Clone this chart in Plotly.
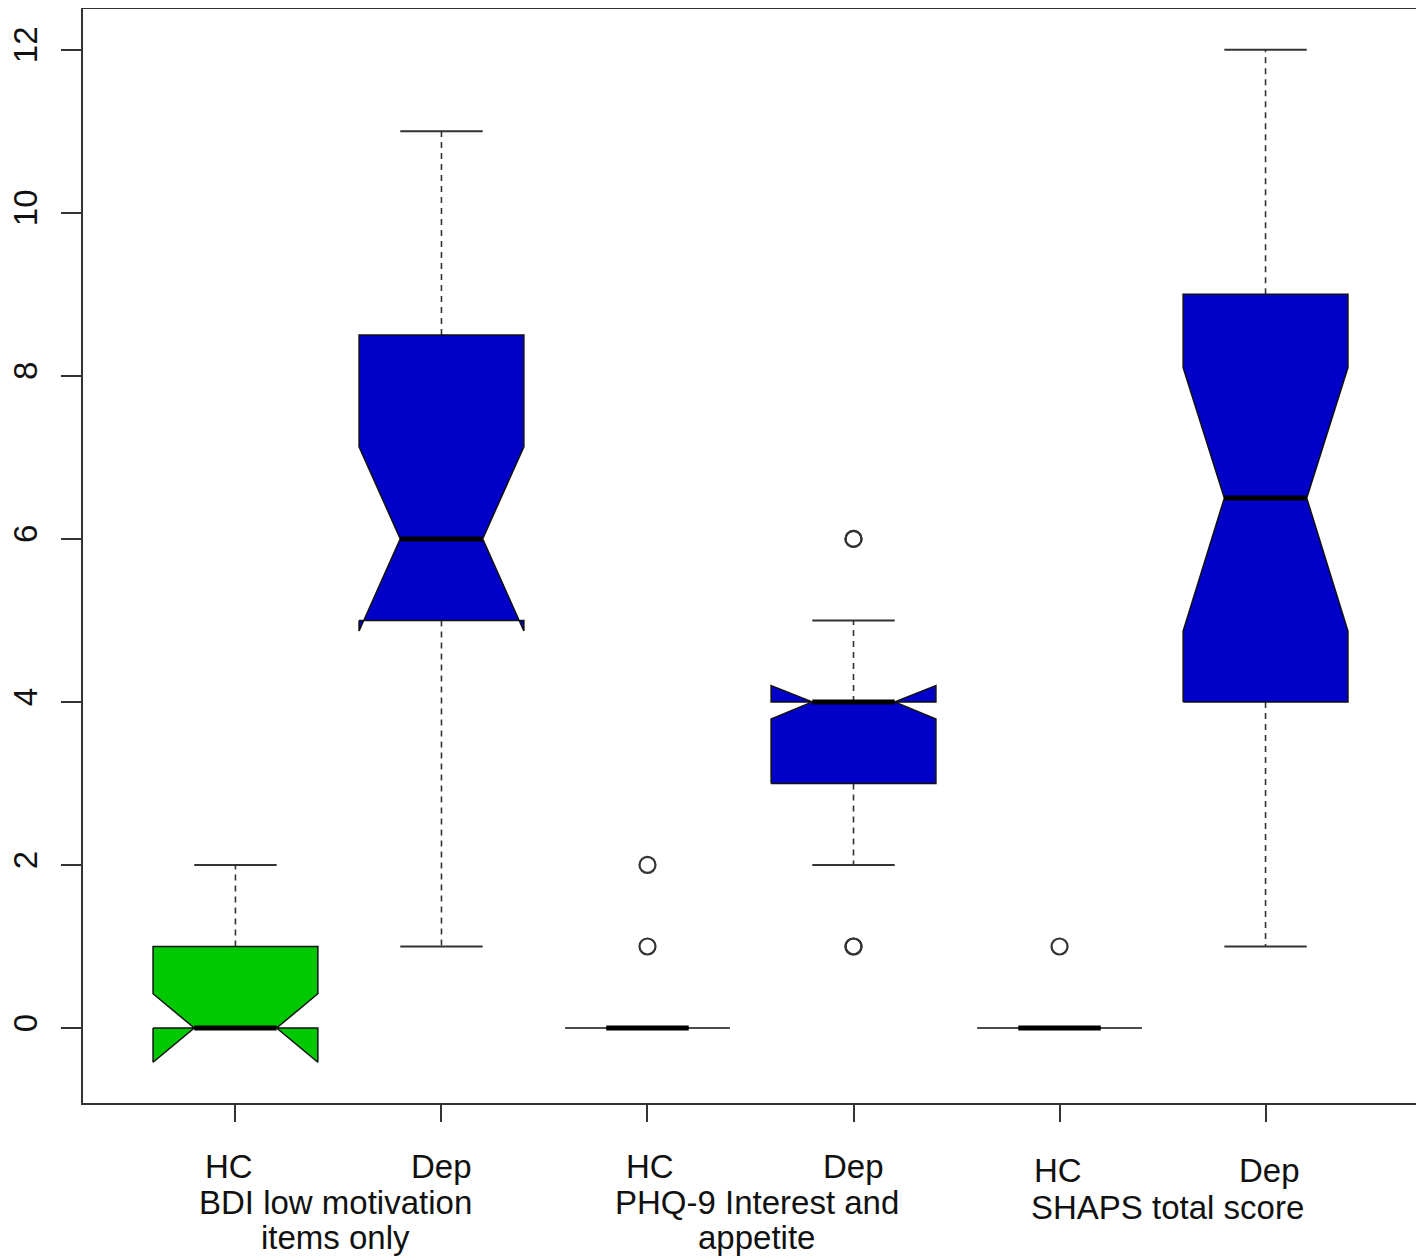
import plotly.graph_objects as go

# ---- data ----
positions = [1, 2, 3, 4, 5, 6]
group_labels = ["HC", "Dep", "HC", "Dep", "HC", "Dep"]
scale_centers = [1.5, 3.5, 5.5]
scale_lines = [["BDI low motivation", "items only"],
               ["PHQ-9 Interest and", "appetite"],
               ["SHAPS total score"]]
q1 = [0, 5, 0, 3, 0, 4]
median = [0, 6, 0, 4, 0, 6.5]
q3 = [1, 8.5, 0, 4, 0, 9]
notch_lo = [-0.42, 4.87, 0, 3.79, 0, 4.87]
notch_hi = [0.42, 7.13, 0, 4.20, 0, 8.10]
whisker_lo = [0, 1, 0, 2, 0, 1]
whisker_hi = [2, 11, 0, 5, 0, 12]
outliers = [[], [], [1, 2], [6, 6, 1, 1], [1], []]
y_ticks = [0, 2, 4, 6, 8, 10, 12]

# ---- styles ----
box_colors = ["#00c800", "#0000c8", "#00c800", "#0000c8", "#00c800", "#0000c8"]
half_w = 0.4          # boxwex / 2
notch_frac = 0.5
staple_frac = 0.5
FONT = "Liberation Sans, Arial, sans-serif"
FS = 33
PAGE_OFFSET = 8       # default body margin of the html page
group_dx = [-6, 0, 3, 0, -2, 4]
group_dy = [63, 63, 63, 63, 67, 67]
scale_dx = [-3, 6, 5]
scale_dy = [[99, 134], [99, 134], [104]]

fig = go.Figure()

for i, x in enumerate(positions):
    # whiskers (dashed)
    wx, wy = [], []
    if whisker_hi[i] > q3[i]:
        wx += [x, x, None]
        wy += [q3[i], whisker_hi[i], None]
    if whisker_lo[i] < q1[i]:
        wx += [x, x, None]
        wy += [q1[i], whisker_lo[i], None]
    if wx:
        fig.add_trace(go.Scatter(x=wx, y=wy, mode="lines",
                                 line=dict(color="#333333", width=1.6, dash="6px,5px"),
                                 hoverinfo="skip", showlegend=False))
    # staples
    sw = half_w * staple_frac
    sx = [x - sw, x + sw, None, x - sw, x + sw]
    sy = [whisker_hi[i], whisker_hi[i], None, whisker_lo[i], whisker_lo[i]]
    fig.add_trace(go.Scatter(x=sx, y=sy, mode="lines",
                             line=dict(color="#333333", width=2),
                             hoverinfo="skip", showlegend=False))
    # notched box polygon (R bxp layout)
    xo = [-1, 1, 1, notch_frac, 1, 1, -1, -1, -notch_frac, -1, -1]
    yv = [q1[i], q1[i], notch_lo[i], median[i], notch_hi[i], q3[i], q3[i],
          notch_hi[i], median[i], notch_lo[i], q1[i]]
    fig.add_trace(go.Scatter(x=[x + half_w * o for o in xo], y=yv, mode="lines",
                             fill="toself", fillcolor=box_colors[i],
                             line=dict(color="#111111", width=1.5),
                             hoverinfo="skip", showlegend=False))
    # median
    mw = half_w * notch_frac
    fig.add_trace(go.Scatter(x=[x - mw, x + mw], y=[median[i], median[i]], mode="lines",
                             line=dict(color="#000000", width=5),
                             hoverinfo="skip", showlegend=False))
    # outliers
    if outliers[i]:
        fig.add_trace(go.Scatter(x=[x] * len(outliers[i]), y=outliers[i], mode="markers",
                                 marker=dict(symbol="circle-open", size=16,
                                             color="#333333", line=dict(width=2.2)),
                                 hoverinfo="skip", showlegend=False))

# x labels (group + scale) as text annotations (pixel offsets below the plot frame)
for i, x in enumerate(positions):
    fig.add_annotation(x=x, y=0, xref="x", yref="paper", text=group_labels[i],
                       showarrow=False, yanchor="middle",
                       xshift=group_dx[i], yshift=-group_dy[i],
                       font=dict(family=FONT, size=FS, color="#111111"))
for k, xc in enumerate(scale_centers):
    for j, txt in enumerate(scale_lines[k]):
        fig.add_annotation(x=xc, y=0, xref="x", yref="paper", text=txt,
                           showarrow=False, yanchor="middle",
                           xshift=scale_dx[k], yshift=-scale_dy[k][j],
                           font=dict(family=FONT, size=FS, color="#111111"))

fig.update_layout(
    width=1424 - PAGE_OFFSET, height=1256 - PAGE_OFFSET, autosize=False,
    margin=dict(l=83 - PAGE_OFFSET, r=6, t=9 - PAGE_OFFSET, b=153),
    plot_bgcolor="white", paper_bgcolor="white",
    showlegend=False,
    font=dict(family=FONT, size=FS, color="#111111"),
)
fig.update_xaxes(range=[0.26, 6.74], tickvals=positions, ticks="outside", ticklen=17,
                 tickwidth=2, tickcolor="#333333", showticklabels=False,
                 showgrid=False, zeroline=False, showline=True, mirror=True,
                 linecolor="#333333", linewidth=2, automargin=False)
fig.update_yaxes(range=[-0.92, 12.5], tickvals=y_ticks, ticks="outside", ticklen=20,
                 tickwidth=2, tickcolor="#333333", tickangle=-90,
                 tickfont=dict(family=FONT, size=FS, color="#111111"),
                 ticklabelstandoff=11,
                 showgrid=False, zeroline=False, showline=True, mirror=True,
                 linecolor="#333333", linewidth=2, automargin=False)

fig.write_html("out.html")
